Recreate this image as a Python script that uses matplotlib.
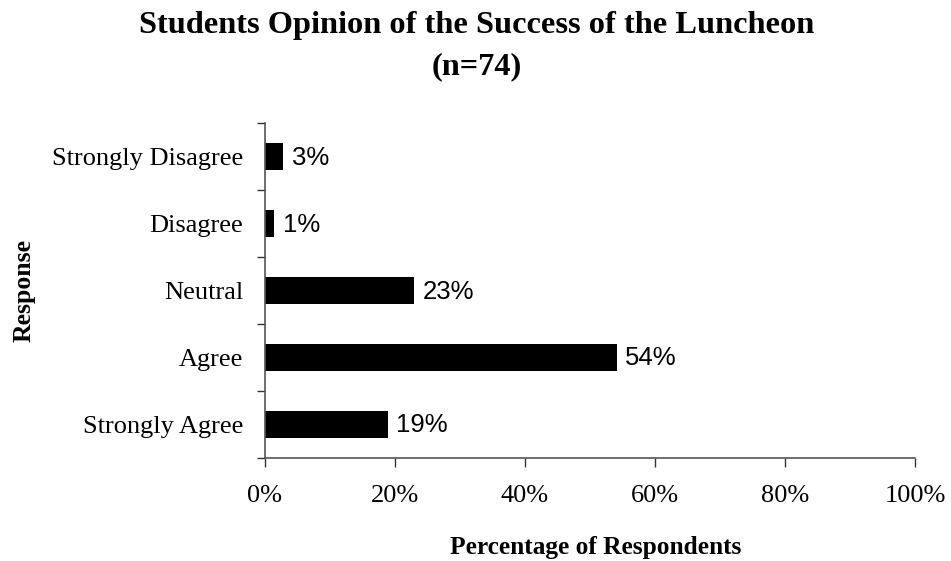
import matplotlib
matplotlib.use("Agg")
import matplotlib.pyplot as plt
from matplotlib.ticker import FixedLocator, FuncFormatter

categories = ["Strongly Agree", "Agree", "Neutral", "Disagree", "Strongly Disagree"]
values = [18.9, 54.1, 23.0, 1.4, 2.8]
value_labels = ["19%", "54%", "23%", "1%", "3%"]
x_ticks = [0, 20, 40, 60, 80, 100]

serif = ["Liberation Serif", "DejaVu Serif"]
sans = ["Liberation Sans", "DejaVu Sans"]

W, H = 951, 561
fig = plt.figure(figsize=(W / 100, H / 100), dpi=100)
ax = fig.add_axes([264.7 / W, 103.3 / H, (915 - 264.7) / W, (457.7 - 123.3) / H])

ypos = list(range(len(categories)))
ax.barh(ypos, values, height=0.4, color="black")

for y, v, lab in zip(ypos, values, value_labels):
    ax.annotate(lab, (v, y), xytext=(6.3, -0.8), textcoords="offset points",
                va="center", ha="left", fontsize=18.5, family=sans)

ax.set_xlim(0, 100)
ax.set_ylim(-0.5, len(categories) - 0.5)
ax.xaxis.set_major_locator(FixedLocator(x_ticks))
ax.xaxis.set_major_formatter(FuncFormatter(lambda x, p: f"{int(x)}%"))
ax.set_yticks(ypos)
ax.set_yticklabels(categories)
ax.yaxis.set_minor_locator(FixedLocator([i - 0.5 for i in range(len(categories) + 1)]))
ax.tick_params(axis="y", which="major", length=0, pad=15.6)
ax.tick_params(axis="y", which="minor", length=5.8, width=1, color="#333333", direction="out")
ax.tick_params(axis="x", which="major", length=6.5, width=1, color="#333333", direction="out", pad=13)
for lab in ax.get_xticklabels() + ax.get_yticklabels():
    lab.set_fontfamily(serif)
    lab.set_fontsize(19)

for s in ["top", "right"]:
    ax.spines[s].set_visible(False)
for s in ["left", "bottom"]:
    ax.spines[s].set_color("#555555")
    ax.spines[s].set_linewidth(1.2)

fig.text(596 / W, 1 - 554 / H, "Percentage of Respondents", ha="center", va="baseline",
         fontsize=18.3, fontweight="bold", family=serif)
fig.text(24.5 / W, 1 - 290 / H, "Response", ha="center", va="center", rotation=90,
         fontsize=18.5, fontweight="bold", family=serif)

fig.text(477 / W, 1 - 33.5 / H, "Students Opinion of the Success of the Luncheon",
         ha="center", va="baseline", fontsize=23.3, fontweight="bold", family=serif)
fig.text(477 / W, 1 - 74 / H, "(n=74)",
         ha="center", va="baseline", fontsize=23.3, fontweight="bold", family=serif)

fig.savefig("out.png", dpi=100)
